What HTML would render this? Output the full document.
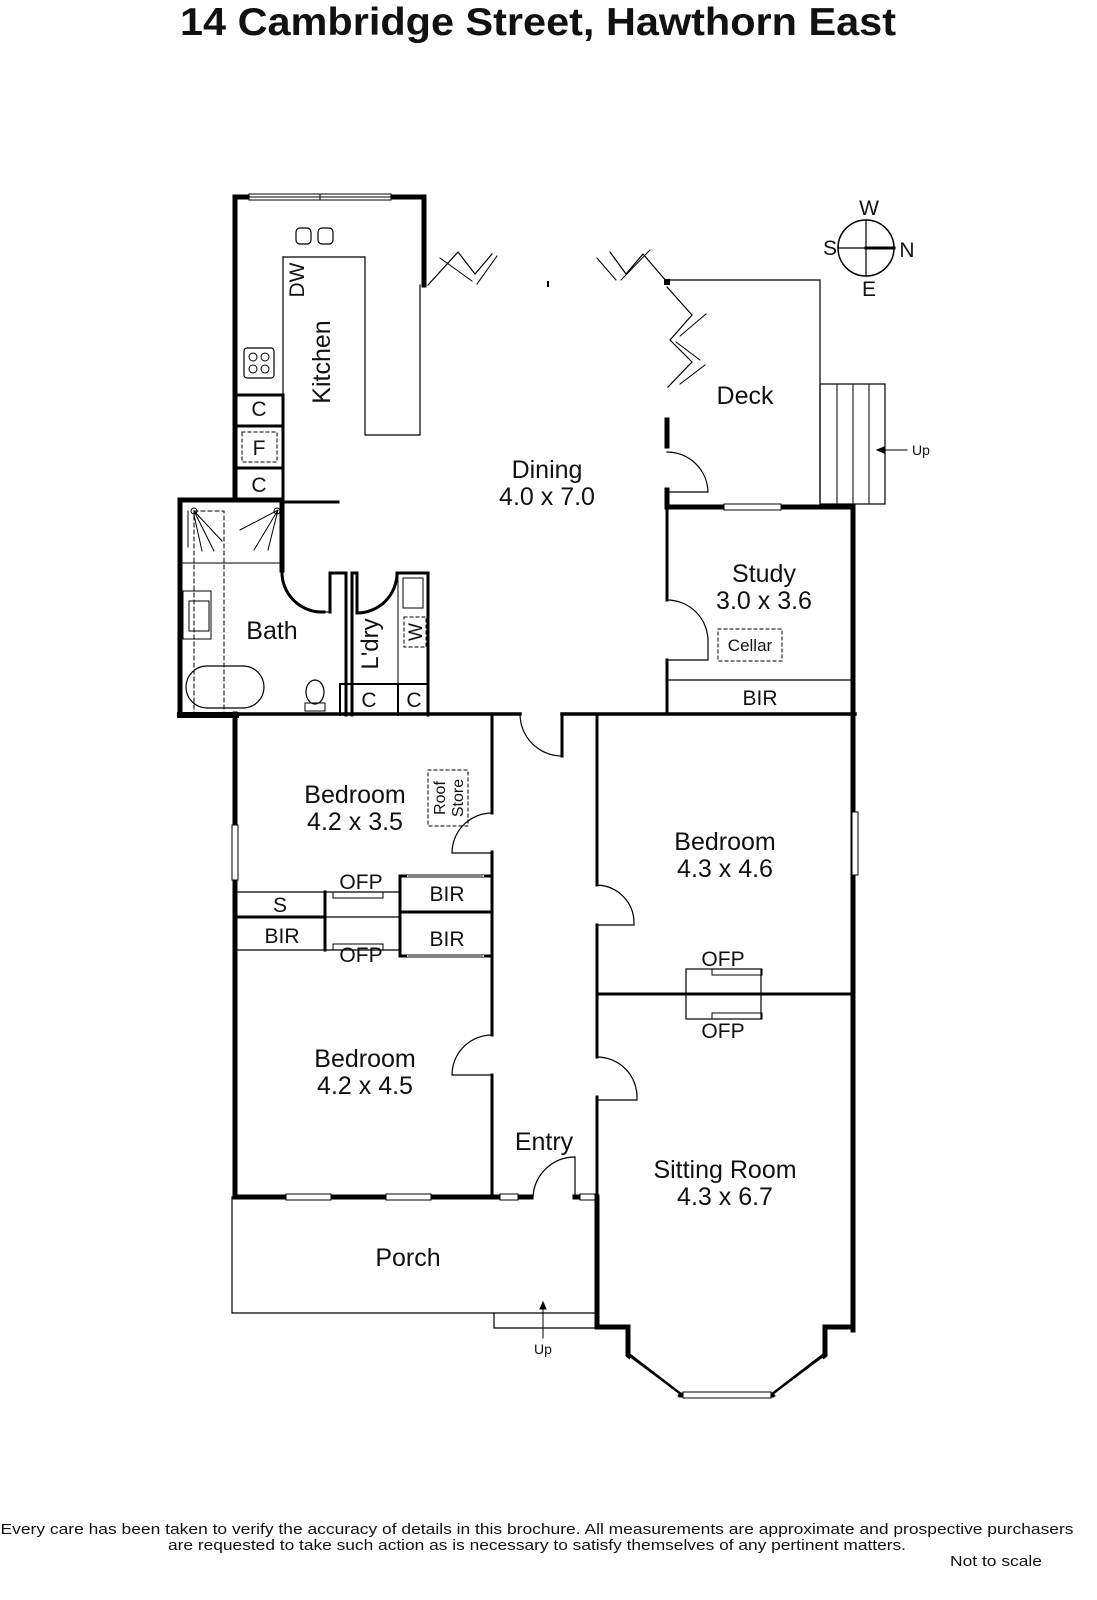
<!DOCTYPE html>
<html><head><meta charset="utf-8"><style>
html,body{margin:0;padding:0;background:#fff}
svg{display:block}
text{font-family:"Liberation Sans",sans-serif;fill:#111}
</style></head><body>
<svg width="1097" height="1600" viewBox="0 0 1097 1600" xmlns="http://www.w3.org/2000/svg">
<text x="538" y="35" font-size="39" font-weight="bold" text-anchor="middle" textLength="716" lengthAdjust="spacingAndGlyphs">14 Cambridge Street, Hawthorn East</text>

<g stroke="#000" fill="none" stroke-linecap="square">
<path d="M235 500 V197 H424 V285" stroke-width="5"/>
<rect x="249" y="194" width="142" height="6" fill="#fff" stroke-width="1"/>
<line x1="249" y1="197" x2="391" y2="197" stroke-width="1"/>
<line x1="320" y1="194" x2="320" y2="200" stroke-width="1"/>
<path d="M428 285 L458 252 L475 274 L492 254" stroke-width="1.2"/>
<path d="M440 258 L472 281 M477 284 L497 256" stroke-width="1"/>
<path d="M667 282 L643 254 L626 274 L610 252" stroke-width="1.2"/>
<path d="M597 258 L616 280 M621 280 L650 250" stroke-width="1"/>
<line x1="548" y1="282" x2="548" y2="286" stroke-width="2"/>
<rect x="664" y="279" width="6" height="6" fill="#000" stroke="none"/>
<path d="M667 287 L692 315 L670 340 L692 362 L668 387" stroke-width="1.2"/>
<path d="M706 314 L680 336 M676 342 L700 360 M705 365 L680 384" stroke-width="1"/>
<path d="M670 280 H820 V503" stroke-width="1.2"/>
<rect x="820" y="384" width="65" height="120" stroke-width="1.2"/>
<path d="M837 384 V504 M853 384 V504 M869 384 V504" stroke-width="1"/>
<path d="M907 450 H877" stroke-width="1"/>
<path d="M877 450 l7 -3 v6 z" fill="#000"/>
<path d="M667 420 V446" stroke-width="5"/>
<path d="M667 490 V507" stroke-width="5"/>
<path d="M667 452 a41 41 0 0 1 41 40 H667" stroke-width="1.2"/>
<path d="M283 257 H365 V435 H420 V285" stroke-width="1.2"/>
<path d="M283 257 V395" stroke-width="1.2"/>
<rect x="296" y="228" width="15" height="16" rx="4" stroke-width="1.2"/>
<rect x="318" y="228" width="15" height="16" rx="4" stroke-width="1.2"/>
<rect x="244" y="348" width="30" height="30" rx="3" stroke-width="1.2"/>
<circle cx="253" cy="357" r="4" stroke-width="1"/><circle cx="265" cy="357" r="4" stroke-width="1"/>
<circle cx="253" cy="369" r="4" stroke-width="1"/><circle cx="265" cy="369" r="4" stroke-width="1"/>
<path d="M235 395 H283 V500 M235 426 H283 M235 468 H283" stroke-width="3"/>
<rect x="242" y="432" width="35" height="30" stroke-width="1" stroke-dasharray="3,3"/>
<line x1="282" y1="502" x2="338" y2="502" stroke-width="3"/>
<path d="M180 715 V500 H282 V570" stroke-width="5"/>
<path d="M282 570 a40 40 0 0 0 42 42 M330 612 V573 H346 V715" stroke-width="3"/>
<path d="M324 612 H330" stroke-width="1.2"/>
<path d="M180 563 H282" stroke-width="1"/>
<rect x="194" y="511" width="30" height="202" stroke-width="1" stroke-dasharray="4,3"/>
<path d="M194 511 l20 40 M194 515 l8 36 M194 511 l28 30 M278 510 l-38 20 M278 510 l-24 40 M278 510 l-10 40 M280 511 V547 M188 511 V547" stroke-width="1"/>
<circle cx="194" cy="511" r="3" stroke-width="1"/><circle cx="277" cy="511" r="3" stroke-width="1"/>
<rect x="183" y="591" width="28" height="48" stroke-width="1"/>
<rect x="189" y="601" width="20" height="30" stroke-width="1"/>
<rect x="186" y="666" width="78" height="42" rx="21" stroke-width="1.2"/>
<ellipse cx="315" cy="692" rx="9" ry="12" stroke-width="1.2"/>
<rect x="305" y="703" width="20" height="8" stroke-width="1"/>
<path d="M352 715 V573 H357 V613 a40 40 0 0 0 40 -40 M398 573 H428 V715" stroke-width="3"/>
<path d="M398 573 V684" stroke-width="1"/>
<rect x="403" y="578" width="20" height="30" stroke-width="1"/>
<rect x="404" y="617" width="22" height="30" stroke-width="1" stroke-dasharray="3,3"/>
<path d="M340 684 H428 M398 684 V715" stroke-width="2"/>
<path d="M340 684 V715" stroke-width="2"/>
<path d="M180 715 H236" stroke-width="6"/>
<path d="M236 714 H520 M562 714 H855" stroke-width="3.5"/>
<path d="M520 714 a42 42 0 0 0 42 42 V714" stroke-width="1.2"/>
<path d="M562 714 V756" stroke-width="3"/>
<path d="M667 507 H853 V1330" stroke-width="5"/>
<rect x="724" y="504" width="57" height="6" fill="#fff" stroke-width="1"/>
<path d="M667 507 V600 M667 660 V714" stroke-width="3"/>
<path d="M667 600 a41 41 0 0 1 41 41 V660 H667" stroke-width="1.2"/>
<path d="M667 680 H853" stroke-width="1.2"/>
<rect x="718" y="629" width="64" height="32" stroke-width="1" stroke-dasharray="3,3"/>
<path d="M235 714 V1197" stroke-width="5"/>
<rect x="232" y="825" width="6" height="55" fill="#fff" stroke-width="1"/>
<path d="M492 714 V813 M492 852 V1035 M492 1075 V1197" stroke-width="3"/>
<path d="M492 813 a40 40 0 0 0 -40 40 H492" stroke-width="1.2"/>
<path d="M492 1035 a40 40 0 0 0 -40 40 H492" stroke-width="1.2"/>
<rect x="428" y="770" width="40" height="56" stroke-width="1" stroke-dasharray="3,3"/>
<path d="M235 892 H400 M235 917 H400 M235 950 H400" stroke-width="1.2"/>
<path d="M325 892 V950 M236 917 H325" stroke-width="3"/>
<path d="M400 876 V956 M400 912 H492 M400 876 H492 M400 956 H492" stroke-width="3"/>
<path d="M408 876 H483 M408 956 H483" stroke="#fff" stroke-width="2"/>
<path d="M408 876 H483 M408 956 H483" stroke-width="1"/>
<path d="M333 892 v6 h50 v-6 M333 950 v-6 h50 v6" stroke-width="1"/>
<path d="M597 714 V885 M597 925 V1057 M597 1097 V1197" stroke-width="3"/>
<path d="M597 885 a38 38 0 0 1 37 38 V925 H597" stroke-width="1.2"/>
<path d="M597 1057 a40 40 0 0 1 40 40 V1100 H597" stroke-width="1.2"/>
<rect x="852" y="812" width="6" height="63" fill="#fff" stroke-width="1"/>
<path d="M597 994 H853" stroke-width="3"/>
<rect x="686" y="969" width="75" height="50" stroke-width="1.2"/>
<path d="M712 969 v6 h50 v-6 M712 1019 v-6 h50 v6" stroke-width="1"/>
<path d="M235 1197 H531 M575 1197 H597" stroke-width="5"/>
<rect x="286" y="1194" width="45" height="6" fill="#fff" stroke-width="1"/>
<rect x="386" y="1194" width="45" height="6" fill="#fff" stroke-width="1"/>
<rect x="500" y="1194" width="18" height="6" fill="#fff" stroke-width="1"/>
<rect x="580" y="1194" width="18" height="6" fill="#fff" stroke-width="1"/>
<path d="M533 1197 a42 42 0 0 1 42 -40 V1197" stroke-width="1.2"/>
<path d="M597 1197 V1327 H628 V1355 L680 1395 H773 L825 1355 V1327 H853" stroke-width="5"/>
<path d="M631 1360 L677 1394 M822 1360 L776 1394" stroke="#fff" stroke-width="3"/>
<path d="M631 1357 L681 1395 M822 1357 L772 1395" stroke-width="1"/>
<rect x="683" y="1392" width="88" height="6" fill="#fff" stroke-width="1"/>
<path d="M232 1197 V1313 H597" stroke-width="1.2"/>
<path d="M494 1313 V1328 H597" stroke-width="1.2"/>
<path d="M543 1338 V1308" stroke-width="1"/>
<path d="M543 1302 l-3 7 h6 z" fill="#000"/>
<circle cx="866" cy="248" r="28" stroke-width="1.5"/>
<path d="M866 220 V276 M838 248 H866" stroke-width="1.2"/>
<path d="M866 248 H894" stroke-width="3"/>
</g>

<g font-size="25" text-anchor="middle">
<text x="547" y="478">Dining</text>
<text x="547" y="505">4.0 x 7.0</text>
<text x="745" y="404">Deck</text>
<text x="764" y="582">Study</text>
<text x="764" y="609">3.0 x 3.6</text>
<text x="272" y="639">Bath</text>
<text x="355" y="803">Bedroom</text>
<text x="355" y="830">4.2 x 3.5</text>
<text x="725" y="850">Bedroom</text>
<text x="725" y="877">4.3 x 4.6</text>
<text x="365" y="1067">Bedroom</text>
<text x="365" y="1094">4.2 x 4.5</text>
<text x="544" y="1150">Entry</text>
<text x="725" y="1178">Sitting Room</text>
<text x="725" y="1205">4.3 x 6.7</text>
<text x="408" y="1266">Porch</text>
</g>
<g font-size="21" text-anchor="middle">
<text x="259" y="416">C</text>
<text x="259" y="455">F</text>
<text x="259" y="492">C</text>
<text x="369" y="707">C</text>
<text x="414" y="707">C</text>
<text x="760" y="705">BIR</text>
<text x="361" y="889">OFP</text>
<text x="280" y="912">S</text>
<text x="447" y="901">BIR</text>
<text x="282" y="943">BIR</text>
<text x="447" y="946">BIR</text>
<text x="361" y="962">OFP</text>
<text x="723" y="966">OFP</text>
<text x="723" y="1038">OFP</text>
<text x="869" y="215">W</text>
<text x="830" y="255">S</text>
<text x="907" y="257">N</text>
<text x="869" y="296">E</text>
</g>
<text x="750" y="651" font-size="17" text-anchor="middle">Cellar</text>
<text x="921" y="455" font-size="14" text-anchor="middle">Up</text>
<text x="543" y="1354" font-size="14" text-anchor="middle">Up</text>
<text transform="translate(330 362) rotate(-90)" font-size="25" text-anchor="middle">Kitchen</text>
<text transform="translate(304 280) rotate(-90)" font-size="21" text-anchor="middle">DW</text>
<text transform="translate(378 644) rotate(-90)" font-size="24" text-anchor="middle">L'dry</text>
<text transform="translate(422 632) rotate(-90)" font-size="19" text-anchor="middle">W</text>
<text transform="translate(445 798) rotate(-90)" font-size="16" text-anchor="middle">Roof</text>
<text transform="translate(463 798) rotate(-90)" font-size="16" text-anchor="middle">Store</text>

<text x="537" y="1534" font-size="15" text-anchor="middle" textLength="1073" lengthAdjust="spacingAndGlyphs">Every care has been taken to verify the accuracy of details in this brochure.  All measurements are approximate and prospective purchasers</text>
<text x="537" y="1550" font-size="15" text-anchor="middle" textLength="738" lengthAdjust="spacingAndGlyphs">are requested to take such action as is necessary to satisfy themselves of any pertinent matters.</text>
<text x="996" y="1566" font-size="15" text-anchor="middle" textLength="92" lengthAdjust="spacingAndGlyphs">Not to scale</text>
</svg>
</body></html>
